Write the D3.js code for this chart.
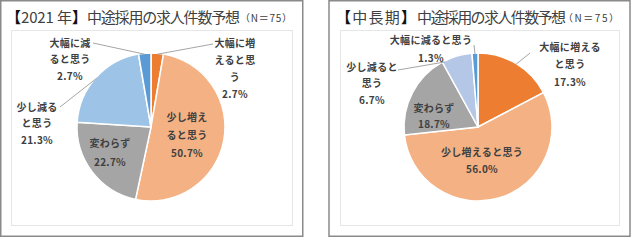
<!DOCTYPE html>
<html><head><meta charset="utf-8">
<script src="https://cdn.jsdelivr.net/npm/d3@7"></script>
<style>
body{margin:0;background:#fff;}
text{font-family:"Noto Sans CJK JP","Noto Sans",sans-serif;}
</style></head>
<body><svg id="c" width="634" height="240"></svg>
<script>
// ---- data ----
const categories = ["大幅に増えると思う","少し増えると思う","変わらず","少し減ると思う","大幅に減ると思う"];
const values2021 = [2.7, 50.7, 22.7, 21.3, 2.7];
const valuesLong = [17.3, 56.0, 18.7, 6.7, 1.3];
const titles2021 = ["【2021 年】","中途採用の求人件数予想","（N＝75）"];
const titlesLong = ["【中長期】","中途採用の求人件数予想","（N＝75）"];
const labelLines2021 = [["大幅に増","えると思","う"],["少し増え","ると思う"],["変わらず"],["少し減る","と思う"],["大幅に減","ると思う"]];
const labelLinesLong = [["大幅に増える","と思う"],["少し増えると思う"],["変わらず"],["少し減ると","思う"],["大幅に減ると思う"]];
const colors2021 = ["#ED7D31","#F4B183","#A5A5A5","#9DC3E6","#5B9BD5"];
const colorsLong = ["#ED7D31","#F4B183","#A5A5A5","#B4C7E7","#5B9BD5"];

// ---- layout ----
const panels = [
  {x:0.75, w:302, cx:151, plot:[11,30,281,195],
   titles:titles2021, tseg:[[6,81],[87,153],[240,52]],
   vals:values2021, lines:labelLines2021, cols:colors2021,
   lab:[{x:84,y:-84,lh:17,leader:[62,-83]}, {x:36,y:-10,lh:18}, {x:-41,y:16,lh:19},
        {x:-114,y:-20,lh:16.5,leader:[-91,-20]}, {x:-81,y:-84,lh:16.5,leader:[-58,-84]}]},
  {x:329, w:301, cx:478, plot:[340,30,279,195],
   titles:titlesLong, tseg:[[336,80],[417,149],[563,56]],
   vals:valuesLong, lines:labelLinesLong, cols:colorsLong,
   lab:[{x:92,y:-80,lh:17.5,leader:[52,-74]}, {x:4,y:25,lh:17}, {x:-44,y:-19,lh:16},
        {x:-106,y:-60,lh:16.5,leader:[-80,-57],la:333}, {x:-47,y:-87,lh:18,leader:[-4,-82]}]}
];
const cy = 127, R = 74;

const svg = d3.select("#c");
const pie = d3.pie().sort(null).value(d=>d);
const arc = d3.arc().innerRadius(0).outerRadius(R);

panels.forEach((p,pi)=>{
  svg.append("rect").attr("x",p.x).attr("y",0.75).attr("width",p.w).attr("height",235.5)
    .attr("fill","#fff").attr("stroke","#8a8a8a").attr("stroke-width",1.5);
  svg.append("rect").attr("x",p.plot[0]+0.5).attr("y",p.plot[1]+0.5).attr("width",p.plot[2]).attr("height",p.plot[3])
    .attr("fill","#fff").attr("stroke","#e6e6e6").attr("stroke-width",1);
  // title segments
  p.titles.forEach((s,k)=>{
    const t = svg.append("text").attr("x",p.tseg[k][0]).attr("y",k===2?22:23)
      .attr("textLength",p.tseg[k][1]).attr("lengthAdjust","spacing")
      .attr("font-size",k===2?10:15).attr("fill","#404040");
    if(k===0){
      const inner = s.slice(1,-1);
      t.append("tspan").text("【").attr("font-weight","bold").attr("fill","#111");
      t.append("tspan").text(inner);
      t.append("tspan").text("】").attr("font-weight","bold").attr("fill","#111");
    } else t.text(s);
  });

  const g = svg.append("g").attr("transform",`translate(${p.cx},${cy})`);
  const arcs = pie(p.vals);
  g.selectAll("path").data(arcs).join("path").attr("d",arc)
    .attr("fill",(d,i)=>p.cols[i]).attr("stroke","#fff").attr("stroke-width",1.5);

  arcs.forEach((a,i)=>{
    const L = p.lab[i];
    if(L.leader){
      const ang = L.la!==undefined ? L.la*Math.PI/180 : (a.startAngle+a.endAngle)/2;
      g.append("line").attr("x1",L.leader[0]).attr("y1",L.leader[1])
        .attr("x2",Math.sin(ang)*(R-1)).attr("y2",-Math.cos(ang)*(R-1))
        .attr("stroke","#a6a6a6").attr("stroke-width",1);
    }
    const lines = p.lines[i].concat([d3.format(".1f")(p.vals[i])+"%"]);
    lines.forEach((s,k)=>{
      g.append("text").attr("x",L.x).attr("y",L.y+k*L.lh).attr("dy","0.35em")
        .attr("text-anchor","middle").attr("font-size",10).attr("font-weight","bold")
        .attr("letter-spacing",0.3).attr("fill","#404040").text(s);
    });
  });
});
</script></body></html>
